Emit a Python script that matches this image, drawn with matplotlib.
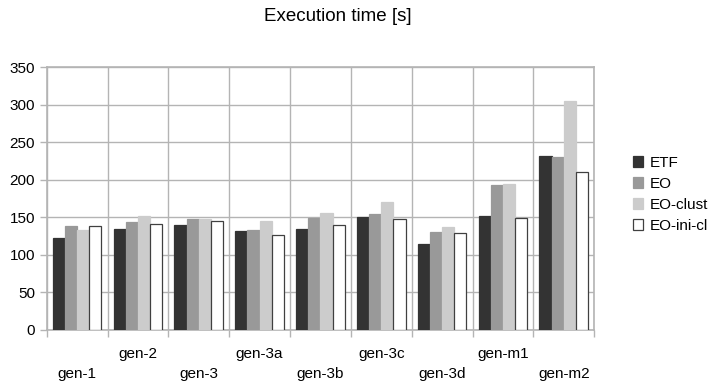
import matplotlib
matplotlib.use("Agg")
import matplotlib.pyplot as plt
import numpy as np

plt.rcParams['font.family'] = ['Liberation Sans', 'DejaVu Sans']

categories = ['gen-1', 'gen-2', 'gen-3', 'gen-3a', 'gen-3b',
              'gen-3c', 'gen-3d', 'gen-m1', 'gen-m2']
etf = [122, 134, 140, 132, 134, 150, 114, 152, 232]
eo = [138, 144, 148, 133, 149, 154, 130, 193, 230]
eo_clust = [133, 152, 148, 145, 156, 170, 137, 194, 305]
eo_ini_cl = [138, 141, 145, 126, 140, 148, 129, 149, 211]
yticks = [0, 50, 100, 150, 200, 250, 300, 350]

series = [
    ('ETF', etf, '#333333', '#333333'),
    ('EO', eo, '#999999', '#999999'),
    ('EO-clust', eo_clust, '#cccccc', '#cccccc'),
    ('EO-ini-cl', eo_ini_cl, 'white', '#404040'),
]

fig = plt.figure(figsize=(7.15, 3.85), dpi=100)
ax = fig.add_axes([0.0653, 0.143, 0.7657, 0.682])

x = np.arange(len(categories)) + 0.5
width = 0.2
for i, (name, vals, fc, ec) in enumerate(series):
    ax.bar(x - 0.3 + i * width, vals, width, color=fc, edgecolor=ec,
           linewidth=0.9, label=name, zorder=3)

grid_c = '#b4b4b4'
ax.set_xlim(0, len(categories))
ax.set_ylim(0, 350)
ax.set_yticks(yticks)
ax.set_xticks(np.arange(len(categories) + 1))
ax.set_xticklabels([])
ax.grid(True, color=grid_c, linewidth=1.0, zorder=0)
ax.tick_params(axis='both', color=grid_c, length=5, width=1.0,
               labelsize=11, labelcolor='black', pad=3.5)
for s in ax.spines.values():
    s.set_color(grid_c)
    s.set_linewidth(1.2)

# staggered category labels
trans = matplotlib.transforms.blended_transform_factory(ax.transData, ax.transAxes)
for i, (xi, lab) in enumerate(zip(x, categories)):
    off = -44 if i % 2 == 0 else -24
    ax.annotate(lab, (xi, 0), xycoords=trans, xytext=(0, off * 0.72),
                textcoords='offset points', ha='center', va='center',
                fontsize=11)

fig.text(0.472, 0.958, 'Execution time [s]', ha='center', va='center',
         fontsize=13.5)

ax.legend(loc='center left', bbox_to_anchor=(1.045, 0.516), frameon=False,
          fontsize=11, handlelength=0.7, handleheight=0.7,
          handletextpad=0.4, labelspacing=0.45)

fig.savefig('out.png', dpi=100)
